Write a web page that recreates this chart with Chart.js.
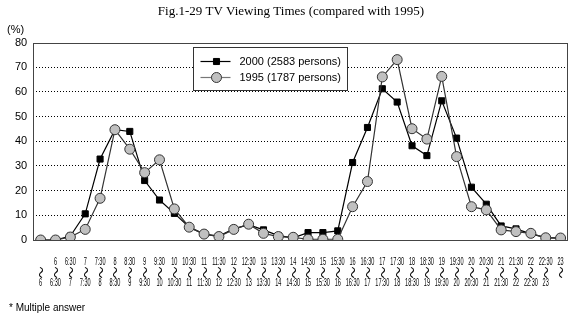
<!DOCTYPE html>
<html>
<head>
<meta charset="utf-8">
<script src="https://cdn.jsdelivr.net/npm/chart.js@4.4.1/dist/chart.umd.min.js"></script>
<style>
    html, body { margin: 0; padding: 0; background: #fff; }
    #wrap { width: 574px; height: 322px; position: relative; }
</style>
</head>
<body>
<div id="wrap"><canvas id="tvChart"></canvas></div>
<script>
// half-hour boundaries used for the time slot labels
const slotTimes = ['6', '6:30', '7', '7:30', '8', '8:30', '9', '9:30', '10', '10:30',
    '11', '11:30', '12', '12:30', '13', '13:30', '14', '14:30', '15', '15:30',
    '16', '16:30', '17', '17:30', '18', '18:30', '19', '19:30', '20', '20:30',
    '21', '21:30', '22', '22:30', '23']

// viewing rate per slot (%)
const viewers2000 = [0, 0, 1.6, 10.6, 32.8, 44.7, 44.0, 24.1, 16.2, 10.8, 5.2, 2.4, 1.6, 4.5, 6.2, 4.1, 1.8, 0.9,
    3.0, 3.0, 3.7, 31.4, 45.6, 61.3, 55.9, 38.2, 34.2, 56.4, 41.3, 21.4, 14.5, 5.7, 4.5, 2.5, 1.0, 0.8]
const viewers1995 = [0, 0, 1.2, 4.3, 16.9, 44.7, 36.8, 27.3, 32.5, 12.6, 5.2, 2.4, 1.4, 4.3, 6.4, 2.7, 1.4, 1.1,
    0.3, 0.3, 0.3, 13.5, 23.7, 66.1, 73.1, 45.1, 40.9, 66.3, 33.8, 13.5, 12.2, 4.1, 3.4, 2.7, 0.9, 0.8]

const seriesNames = ['2000 (2583 persons)', '1995 (1787 persons)']

// "from ~ to" labels, open-ended at both ends
const labels = []
for (let i = 0; i <= slotTimes.length; i++) {
    const from = i === 0 ? '' : slotTimes[i - 1]
    const to = i === slotTimes.length ? '' : slotTimes[i]
    labels.push([from, to])
}

const SANS = '"Liberation Sans", Arial, sans-serif'

// x labels are drawn narrow so that "10:30" fits in one slot
const slotLabels = {
    id: 'slotLabels',
    afterDraw(chart) {
        const { ctx } = chart
        const xScale = chart.scales.x
        const top = xScale.top
        ctx.save()
        ctx.fillStyle = '#000'
        ctx.textAlign = 'center'
        ctx.textBaseline = 'middle'
        chart.data.labels.forEach((lab, i) => {
            const x = xScale.getPixelForTick(i)
            ctx.save()
            ctx.translate(x, 0)
            ctx.scale(0.53, 1)
            ctx.font = '10.5px ' + SANS
            if (lab[0]) ctx.fillText(lab[0], 0, top + 22)
            if (lab[1]) ctx.fillText(lab[1], 0, top + 43)
            ctx.restore()
            // wave dash turned upright between the two times
            ctx.save()
            ctx.translate(x, top + 32.5)
            ctx.rotate(Math.PI / 2)
            ctx.font = '12px "Noto Sans CJK JP", sans-serif'
            ctx.fillText('\u301C', 0, 0)
            ctx.restore()
        })
        ctx.restore()
    }
}

const frameAndLegend = {
    id: 'frameAndLegend',
    afterDatasetsDraw(chart) {
        const { ctx, chartArea } = chart
        ctx.save()
        ctx.strokeStyle = '#444'
        ctx.lineWidth = 1
        ctx.strokeRect(Math.round(chartArea.left) + 0.5, Math.round(chartArea.top) + 0.5,
            Math.round(chartArea.width) - 1, Math.round(chartArea.height))

        // "(%)" unit above the y axis
        ctx.fillStyle = '#000'
        ctx.font = '11px ' + SANS
        ctx.textAlign = 'left'
        ctx.textBaseline = 'middle'
        ctx.fillText('(%)', 7, chartArea.top - 13)

        // legend box inside the plot
        const bx = 193.5, by = 47.5, bw = 154, bh = 43
        ctx.fillStyle = '#fff'
        ctx.fillRect(bx, by, bw, bh)
        ctx.strokeStyle = '#333'
        ctx.strokeRect(bx, by, bw, bh)
        chart.data.datasets.slice().sort((a, b) => a.legendIndex - b.legendIndex).forEach((ds, i) => {
            const cy = by + 14 + i * 16
            ctx.strokeStyle = ds.legendLine
            ctx.lineWidth = 1.2
            ctx.beginPath()
            ctx.moveTo(bx + 7, cy)
            ctx.lineTo(bx + 37, cy)
            ctx.stroke()
            ctx.fillStyle = ds.pointBackgroundColor
            ctx.strokeStyle = ds.pointBorderColor
            ctx.lineWidth = 1
            ctx.beginPath()
            if (ds.pointStyle === 'circle') {
                ctx.arc(bx + 23, cy, ds.pointRadius, 0, Math.PI * 2)
            } else {
                const s = Math.SQRT1_2 * ds.pointRadius
                ctx.rect(bx + 23 - s, cy - s, 2 * s, 2 * s)
            }
            ctx.fill()
            ctx.stroke()
            ctx.fillStyle = '#000'
            ctx.font = '11px ' + SANS
            ctx.fillText(ds.label, bx + 46, cy)
        })
        ctx.restore()
    }
}

new Chart(document.getElementById('tvChart'), {
    type: 'line',
    data: {
        labels,
        datasets: [{
            label: seriesNames[0],
            data: viewers2000,
            legendIndex: 0,
            legendLine: '#000',
            order: 2,
            borderColor: '#000',
            borderWidth: 1.2,
            pointStyle: 'rect',
            pointRadius: 4.3,
            pointBackgroundColor: '#000',
            pointBorderColor: '#000',
            pointBorderWidth: 1,
            tension: 0
        }, {
            label: seriesNames[1],
            data: viewers1995,
            legendIndex: 1,
            legendLine: '#777',
            order: 1,
            borderColor: '#333',
            borderWidth: 1.2,
            pointStyle: 'circle',
            pointRadius: 5,
            pointBackgroundColor: '#c0c0c0',
            pointBorderColor: '#333',
            pointBorderWidth: 1,
            tension: 0
        }]
    },
    options: {
        responsive: true,
        maintainAspectRatio: false,
        animation: false,
        layout: { padding: { left: 9, right: 1, top: 0, bottom: 4 } },
        scales: {
            x: {
                offset: true,
                grid: { display: false, drawTicks: false },
                border: { display: false },
                ticks: { display: false, autoSkip: false, maxRotation: 0 },
                afterFit(scale) { scale.height = 54 }
            },
            y: {
                min: 0,
                max: 80,
                ticks: {
                    stepSize: 10,
                    padding: 6,
                    color: '#000',
                    font: { size: 11, family: SANS }
                },
                border: { display: false, dash: [1, 2] },
                grid: {
                    drawTicks: false,
                    color: c => (c.tick.value === 0 || c.tick.value === 80) ? 'rgba(0,0,0,0)' : '#000',
                    lineWidth: 1
                }
            }
        },
        plugins: {
            legend: { display: false },
            tooltip: { enabled: false },
            title: {
                display: true,
                text: 'Fig.1-29 TV Viewing Times (compared with 1995)',
                color: '#000',
                font: { size: 13, family: '"Liberation Serif", "Times New Roman", serif', weight: 'normal' },
                padding: { top: 4, bottom: 23 }
            },
            subtitle: {
                display: true,
                position: 'bottom',
                align: 'start',
                text: '* Multiple answer',
                color: '#000',
                font: { size: 10, family: SANS },
                padding: { top: 8, bottom: 4 }
            }
        }
    },
    plugins: [frameAndLegend, slotLabels]
})
</script>
</body>
</html>
